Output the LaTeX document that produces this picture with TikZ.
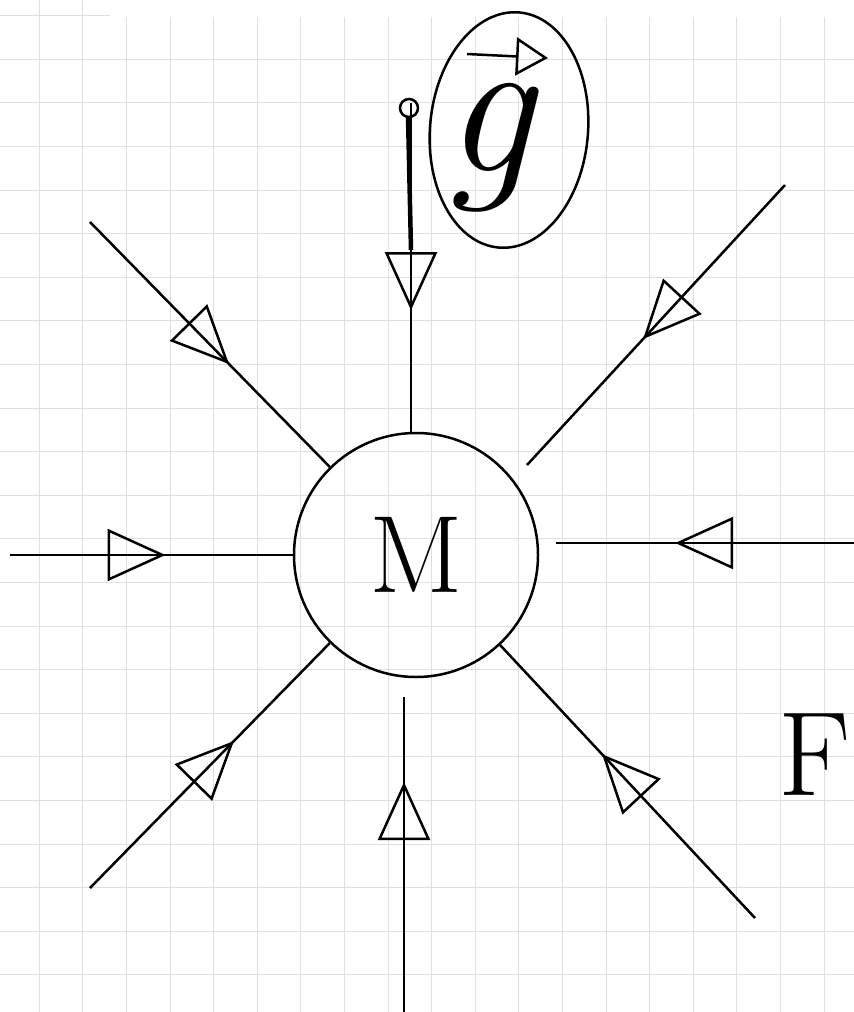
\documentclass[tikz,border=0pt]{standalone}
\usetikzlibrary{arrows.meta,decorations.markings,shapes.geometric}

\begin{document}
\begin{tikzpicture}[x=1pt, y=-1pt, line width=2.5pt,
    field/.style={postaction={decorate, decoration={markings,
        mark=at position #1 with {\arrow{Triangle[open, length=58pt, width=52pt]}}}}},
    gridline/.style={gray!25, line width=1pt}]
    % Page
    \useasboundingbox[fill=white] (0,0) rectangle (854,1012);

    % Squared paper
    \foreach \k in {0,1} {
        \draw[gridline] (39.3+43.6*\k, 0) -- (39.3+43.6*\k, 1012);
    }
    \foreach \k in {2,...,18} {
        \draw[gridline] (39.3+43.6*\k, 17) -- (39.3+43.6*\k, 1012);
    }
    \draw[gridline] (0, 15.7) -- (110, 15.7);
    \foreach \k in {0,...,21} {
        \draw[gridline] (0, 59.3+43.6*\k) -- (854, 59.3+43.6*\k);
    }

    % Mass
    \node[draw, circle, minimum size=244pt, inner sep=0pt,
          font=\fontsize{110}{110}\selectfont] (M) at (416,555) {M};

    % Ends of the field lines
    \coordinate (n) at (411,103);
    \coordinate (ne) at (785,185);
    \coordinate (nein) at (527,465);
    \coordinate (e) at (854,543);
    \coordinate (ein) at (556,543);
    \coordinate (se) at (755,918);
    \coordinate (s) at (404,1012);
    \coordinate (sin) at (404,697);
    \coordinate (sw) at (90,888);
    \coordinate (w) at (10,555);
    \coordinate (nw) at (90,222);

    % Field lines, pointing in
    \draw[field=0.63] (n) -- (n |- M.north);
    \draw[field=0.55] (ne) -- (nein);
    \draw[field=0.6] (e) -- (ein);
    \draw[field=0.6] (se) -- (M);
    \draw[field=0.73] (s) -- (sin);
    \draw[field=0.6] (sw) -- (M);
    \draw[field=0.55] (w) -- (M);
    \draw[field=0.58] (nw) -- (M);

    % Scribble on the top line
    \draw[line width=4.5pt] (408,116) -- (411,250);
    \draw (409,108) circle[radius=9];

    % Field symbol
    \node[draw, ellipse, minimum width=158pt, minimum height=236pt, rotate=-5] (gbox) at (509,130) {};
    \node[font=\fontsize{200}{200}\selectfont\itshape, inner sep=0pt] (g) at (488,148) {g};
    \draw[-{Triangle[open, length=32pt, width=38pt]}] (467,54) -- (548,58);

    % Force
    \node[font=\fontsize{120}{120}\selectfont, inner sep=0pt] (F) at (815,755) {F};
\end{tikzpicture}
\end{document}
